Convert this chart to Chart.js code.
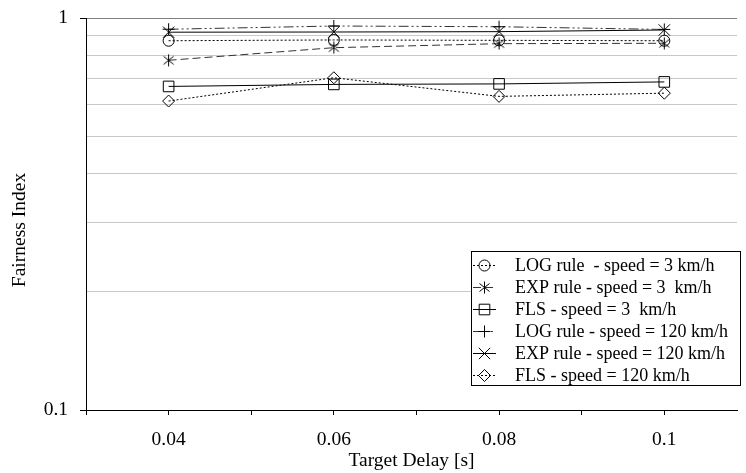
<!DOCTYPE html>
<html>
<head>
<meta charset="utf-8">
<script src="https://cdn.jsdelivr.net/npm/chart.js@4.4.0/dist/chart.umd.min.js"></script>
<style>
  body { margin: 0; background: #fff; }
  canvas { display: block; }
</style>
</head>
<body>
<canvas id="chart" width="746" height="473"></canvas>
<script>
// target delays (x) and fairness index per scheme (y)
const delays = [0.04, 0.06, 0.08, 0.1];
const logRule3 = [0.875, 0.879, 0.877, 0.875];
const expRule3 = [0.780, 0.840, 0.860, 0.862];
const fls3 = [0.669, 0.677, 0.679, 0.687];
const logRule120 = [0.936, 0.954, 0.950, 0.935];
const expRule120 = [0.920, 0.921, 0.923, 0.932];
const fls120 = [0.614, 0.704, 0.631, 0.643];

const seriesNames = [
    'LOG rule  - speed = 3 km/h',
    'EXP rule - speed = 3  km/h',
    'FLS - speed = 3  km/h',
    'LOG rule - speed = 120 km/h',
    'EXP rule - speed = 120 km/h',
    'FLS - speed = 120 km/h'
];
const xTickLabels = [0.04, 0.06, 0.08, 0.1];
const yTickLabels = [0.1, 1];
const yGridValues = [0.1, 0.2, 0.3, 0.4, 0.5, 0.6, 0.7, 0.8, 0.9, 1];

const FONT = '"Liberation Serif", "Times New Roman", serif';

// asterisk marker (vertical bar + X), drawn once on a small canvas
function makeAsterisk() {
    const c = document.createElement('canvas');
    c.width = 13; c.height = 13;
    const g = c.getContext('2d');
    g.strokeStyle = '#000';
    g.lineWidth = 1;
    g.beginPath();
    g.moveTo(6.5, 0.5); g.lineTo(6.5, 12.5);
    g.moveTo(1.5, 2.5); g.lineTo(11.5, 10.5);
    g.moveTo(11.5, 2.5); g.lineTo(1.5, 10.5);
    g.stroke();
    return c;
}
const asterisk = makeAsterisk();

function pts(values) {
    return values.map((v, i) => ({ x: delays[i], y: v }));
}

const styles = [
    { data: logRule3, dash: [2, 2], color: '#000', pointStyle: 'circle', radius: 5.5 },
    { data: expRule3, dash: [8, 4], color: '#333', pointStyle: asterisk, radius: 6 },
    { data: fls3, dash: [], color: '#000', pointStyle: 'rect', radius: 7.5 },
    { data: logRule120, dash: [10, 3, 2, 3, 2, 3], color: '#333', pointStyle: 'cross', radius: 6 },
    { data: expRule120, dash: [], color: '#000', pointStyle: 'crossRot', radius: 8 },
    { data: fls120, dash: [2, 2], color: '#000', pointStyle: 'rectRot', radius: 6 }
];

const datasets = styles.map((s, i) => ({
    label: seriesNames[i],
    data: pts(s.data),
    borderColor: s.color,
    borderWidth: 1,
    borderDash: s.dash,
    backgroundColor: 'rgba(0,0,0,0)',
    pointStyle: s.pointStyle,
    pointRadius: s.radius,
    pointHoverRadius: s.radius,
    pointBorderColor: '#000',
    pointBackgroundColor: 'rgba(0,0,0,0)',
    pointBorderWidth: 1,
    tension: 0,
    fill: false
}));

// draws the boxed legend and the y axis title
const extras = {
    id: 'extras',
    afterDraw(chart) {
        const ctx = chart.ctx;
        ctx.save();

        // y title
        ctx.fillStyle = '#000';
        ctx.font = '19.5px ' + FONT;
        ctx.textAlign = 'center';
        ctx.textBaseline = 'middle';
        ctx.translate(20, 230);
        ctx.rotate(-Math.PI / 2);
        ctx.fillText('Fairness Index', 0, 0);
        ctx.setTransform(1, 0, 0, 1, 0, 0);

        // legend box
        const bx = 471.5, by = 251.5, bw = 269, bh = 134;
        ctx.fillStyle = '#fff';
        ctx.fillRect(bx, by, bw, bh);
        ctx.strokeStyle = '#000';
        ctx.lineWidth = 1;
        ctx.strokeRect(bx, by, bw, bh);

        ctx.font = '18px ' + FONT;
        ctx.textAlign = 'left';
        ctx.textBaseline = 'middle';
        chart.data.datasets.forEach((ds, i) => {
            const y = 265 + i * 22;
            ctx.beginPath();
            ctx.setLineDash(ds.borderDash);
            ctx.strokeStyle = ds.borderColor;
            ctx.moveTo(473, y + 0.5);
            ctx.lineTo(496, y + 0.5);
            ctx.stroke();
            ctx.setLineDash([]);
            ctx.strokeStyle = '#000';
            ctx.fillStyle = 'rgba(0,0,0,0)';
            Chart.helpers.drawPoint(ctx, {
                pointStyle: ds.pointStyle,
                radius: ds.pointRadius,
                borderWidth: 1,
                rotation: 0
            }, 484.5, y + 0.5);
            ctx.fillStyle = '#000';
            ctx.fillText(ds.label, 515, y + 1);
        });
        ctx.restore();
    }
};

new Chart(document.getElementById('chart'), {
    type: 'line',
    data: { datasets: datasets },
    plugins: [extras],
    options: {
        responsive: false,
        devicePixelRatio: 1,
        animation: false,
        events: [],
        layout: { padding: { top: 18, right: 0, left: 0, bottom: 0 } },
        plugins: {
            legend: { display: false },
            tooltip: { enabled: false }
        },
        scales: {
            x: {
                type: 'linear',
                min: 0.03,
                max: 0.1088,
                afterFit: s => {
                    s.height = 63;
                    s.paddingLeft = 0;
                    s.paddingRight = 0;
                },
                border: { color: '#000', width: 1 },
                grid: {
                    drawOnChartArea: false,
                    drawTicks: true,
                    tickLength: 5,
                    tickColor: '#000'
                },
                ticks: {
                    stepSize: 0.01,
                    includeBounds: false,
                    autoSkip: false,
                    maxRotation: 0,
                    padding: 13,
                    color: '#000',
                    font: { family: FONT, size: 19.5 },
                    callback: v => {
                        const r = Math.round(v * 100) / 100;
                        return xTickLabels.includes(r) ? String(r) : '';
                    }
                },
                title: {
                    display: true,
                    text: 'Target Delay [s]',
                    color: '#000',
                    font: { family: FONT, size: 19.5 },
                    padding: { top: 0, bottom: 0 }
                }
            },
            y: {
                type: 'logarithmic',
                min: 0.1,
                max: 1,
                afterFit: s => {
                    s.width = 86;
                    s.paddingTop = 0;
                    s.paddingBottom = 0;
                },
                afterBuildTicks: s => { s.ticks = yGridValues.map(v => ({ value: v })); },
                border: { color: '#000', width: 1 },
                grid: {
                    drawTicks: true,
                    tickLength: 6,
                    lineWidth: 1,
                    color: c => {
                        const v = c.tick ? c.tick.value : 0;
                        if (Math.abs(v - 1) < 1e-9) return '#808080';
                        if (Math.abs(v - 0.1) < 1e-9) return 'rgba(0,0,0,0)';
                        return '#c8c8c8';
                    },
                    tickColor: c => {
                        const v = c.tick ? c.tick.value : 0;
                        return yTickLabels.some(t => Math.abs(t - v) < 1e-9) ? '#000' : 'rgba(0,0,0,0)';
                    }
                },
                ticks: {
                    autoSkip: false,
                    padding: 12,
                    color: '#000',
                    font: { family: FONT, size: 19.5 },
                    callback: v => {
                        return yTickLabels.some(t => Math.abs(t - v) < 1e-9) ? String(v) : '';
                    }
                }
            }
        }
    }
});
</script>
</body>
</html>
